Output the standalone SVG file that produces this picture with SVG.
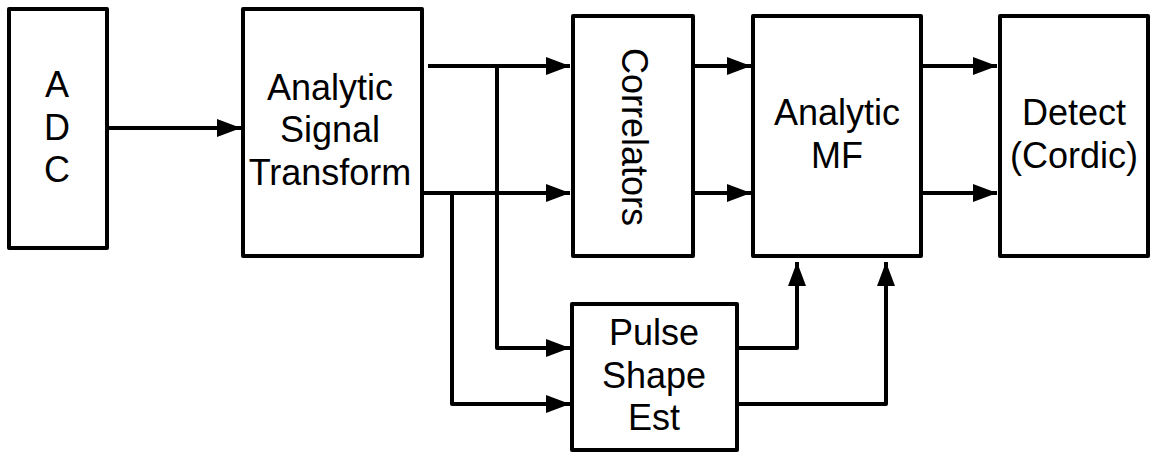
<svg xmlns="http://www.w3.org/2000/svg" width="1154" height="452" viewBox="0 0 1154 452">
<style>
.box{fill:#fff;stroke:#000;stroke-width:4;stroke-linejoin:round}
.ln{fill:none;stroke:#000;stroke-width:4;stroke-linejoin:round}
text{font-family:"Liberation Sans",Arial,sans-serif;font-size:36px;fill:#000;text-anchor:middle}
</style>
<defs>
<marker id="ah" markerUnits="userSpaceOnUse" markerWidth="26" markerHeight="18" refX="24" refY="9" orient="auto">
<path d="M0,0 L24,9 L0,18 Z" fill="#000"/>
</marker>
</defs>
<g id="connectors">
<path class="ln" d="M107,128 H241" marker-end="url(#ah)"/>
<path class="ln" d="M428,66 H570" marker-end="url(#ah)"/>
<path class="ln" d="M422,193 H570" marker-end="url(#ah)"/>
<path class="ln" d="M497,66 V348 H570" marker-end="url(#ah)"/>
<path class="ln" d="M452,193 V404 H570" marker-end="url(#ah)"/>
<path class="ln" d="M693,66 H751" marker-end="url(#ah)"/>
<path class="ln" d="M693,193 H751" marker-end="url(#ah)"/>
<path class="ln" d="M921,66 H997" marker-end="url(#ah)"/>
<path class="ln" d="M921,193 H997" marker-end="url(#ah)"/>
<path class="ln" d="M737,348 H797 V262" marker-end="url(#ah)"/>
<path class="ln" d="M737,404 H886 V262" marker-end="url(#ah)"/>
</g>
<g id="adc">
<rect class="box" x="9" y="9" width="98" height="239"/>
<text x="57" y="97">A</text>
<text x="57" y="140">D</text>
<text x="57" y="182">C</text>
</g>
<g id="ast">
<rect class="box" x="243" y="9" width="179" height="247"/>
<text x="330" y="100">Analytic</text>
<text x="330" y="142">Signal</text>
<text x="330" y="185">Transform</text>
</g>
<g id="correlators">
<rect class="box" x="573" y="16" width="120" height="240"/>
<text transform="translate(622,137) rotate(90)">Correlators</text>
</g>
<g id="mf">
<rect class="box" x="753" y="16" width="168" height="240"/>
<text x="837" y="125">Analytic</text>
<text x="837" y="168">MF</text>
</g>
<g id="detect">
<rect class="box" x="1000" y="16" width="148" height="240"/>
<text x="1074" y="125">Detect</text>
<text x="1074" y="168">(Cordic)</text>
</g>
<g id="pulse">
<rect class="box" x="572" y="304" width="165" height="146"/>
<text x="654" y="345">Pulse</text>
<text x="654" y="388">Shape</text>
<text x="654" y="430">Est</text>
</g>
</svg>
